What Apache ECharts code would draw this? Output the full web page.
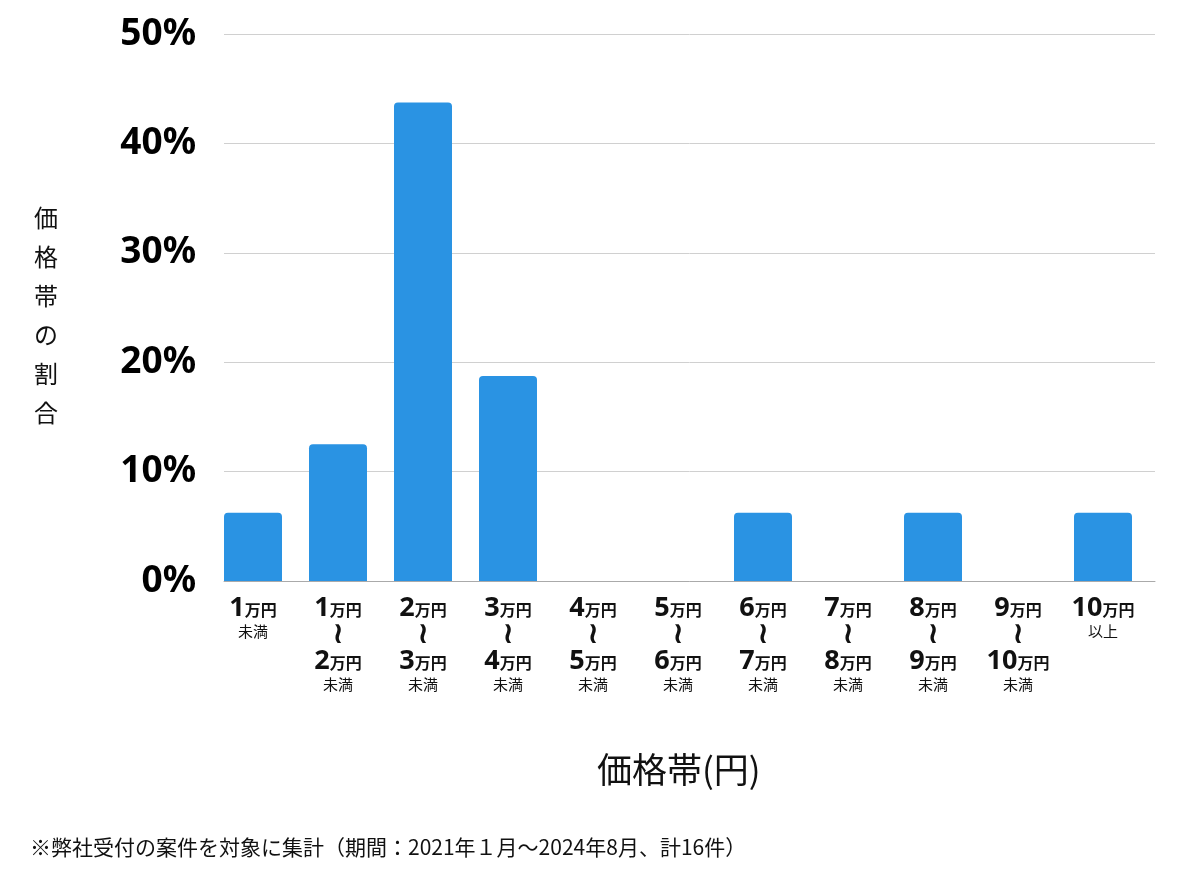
<!DOCTYPE html>
<html>
<head>
<meta charset="utf-8">
<script src="https://cdn.jsdelivr.net/npm/echarts@6/dist/echarts.min.js"></script>
<style>
  html, body { margin: 0; padding: 0; background: #fff; }
  #chart { width: 1200px; height: 874px; }
</style>
</head>
<body>
<div id="chart"></div>
<script>
// Data
// ------------------------------

// price band bounds, in 万円 (null = open end)
var rangeFrom = [null, 1, 2, 3, 4, 5, 6, 7, 8, 9, 10];
var rangeTo = [1, 2, 3, 4, 5, 6, 7, 8, 9, 10, null];
var categories = ['1万円未満', '1〜2万円', '2〜3万円', '3〜4万円', '4〜5万円', '5〜6万円',
                  '6〜7万円', '7〜8万円', '8〜9万円', '9〜10万円', '10万円以上'];
// share of cases (%), 16 cases in total
var shares = [6.25, 12.5, 43.75, 18.75, 0, 0, 6.25, 0, 6.25, 0, 6.25];
var yTicks = [0, 10, 20, 30, 40, 50];

var yAxisName = '価格帯の割合';
var xAxisName = '価格帯(円)';
var footnote = '※弊社受付の案件を対象に集計（期間：2021年１月〜2024年8月、計16件）';


var chartEl = document.getElementById('chart');
var chart = echarts.init(chartEl);

var baseFont = '"Noto Sans", "Noto Sans CJK JP", sans-serif';

// Build the stacked label for one category
var bandLabel = function(idx) {
    var from = rangeFrom[idx], to = rangeTo[idx];
    if (from === null) {
        return '{num|' + to + '}{unit|万円}\n{sub|未満}';
    }
    if (to === null) {
        return '{num|' + from + '}{unit|万円}\n{sub|以上}';
    }
    return '{num|' + from + '}{unit|万円}\n{wave|≀}\n{num|' + to + '}{unit|万円}\n{sub|未満}';
};

chart.setOption({
    animation: false,
    textStyle: { fontFamily: baseFont },

    grid: [
        // grid for the value axis and its split lines
        { left: 224, right: 45, top: 34, bottom: 293 },
        // grid for the bars (shifted band layout)
        { left: 210.5, right: 54.5, top: 34, bottom: 293 }
    ],

    xAxis: [
        {
            type: 'category',
            gridIndex: 0,
            data: categories,
            axisLine: { show: true, lineStyle: { color: '#aaaaaa', width: 1 } },
            axisTick: { show: false },
            axisLabel: { show: false }
        },
        {
            type: 'category',
            gridIndex: 1,
            data: categories,
            axisLine: { show: false },
            axisTick: { show: false },
            axisLabel: {
                interval: 0,
                margin: 14,
                color: '#111',
                align: 'center',
                verticalAlign: 'top',
                formatter: function(value, idx) { return bandLabel(idx); },
                rich: {
                    num: { fontSize: 27, fontWeight: 'bold', color: '#111', lineHeight: 27, fontFamily: baseFont },
                    unit: { fontSize: 16, fontWeight: 'bold', color: '#111', lineHeight: 27, fontFamily: baseFont, padding: [6, 0, 0, 0] },
                    wave: { fontSize: 30, fontWeight: 'bold', color: '#111', lineHeight: 26, fontFamily: 'DejaVu Sans' },
                    sub: { fontSize: 15, color: '#111', lineHeight: 22, fontFamily: baseFont }
                }
            }
        }
    ],

    yAxis: [
        {
            type: 'value',
            gridIndex: 0,
            min: yTicks[0],
            max: yTicks[yTicks.length - 1],
            interval: 10,
            axisLine: { show: false },
            axisTick: { show: false },
            splitLine: { lineStyle: { color: '#d0d0d0', width: 1 } },
            axisLabel: {
                margin: 28,
                color: '#000',
                fontSize: 37,
                fontWeight: 'bold',
                fontFamily: baseFont,
                formatter: '{value}%'
            }
        },
        {
            type: 'value',
            gridIndex: 1,
            min: yTicks[0],
            max: yTicks[yTicks.length - 1],
            interval: 10,
            show: false
        }
    ],

    series: [
        {
            type: 'bar',
            xAxisIndex: 1,
            yAxisIndex: 1,
            barWidth: 58,
            data: shares,
            itemStyle: {
                color: '#2a93e3',
                borderRadius: [4, 4, 0, 0]
            }
        }
    ],

    graphic: [
        // vertical y-axis title
        {
            type: 'text',
            left: 34,
            top: 198,
            style: {
                text: yAxisName.split('').join('\n'),
                font: '24px "Noto Sans CJK JP", sans-serif',
                lineHeight: 39,
                fill: '#111',
                align: 'center'
            }
        },
        // x-axis title
        {
            type: 'text',
            left: 597,
            top: 752,
            style: {
                text: xAxisName,
                font: '35px "Noto Sans CJK JP", sans-serif',
                fill: '#111'
            }
        },
        // footnote
        {
            type: 'text',
            left: 30,
            top: 837,
            style: {
                text: footnote,
                font: '21px "Noto Sans CJK JP", sans-serif',
                fill: '#111'
            }
        }
    ]
});

window.addEventListener('resize', function() {
    chart.resize();
});
</script>
</body>
</html>
